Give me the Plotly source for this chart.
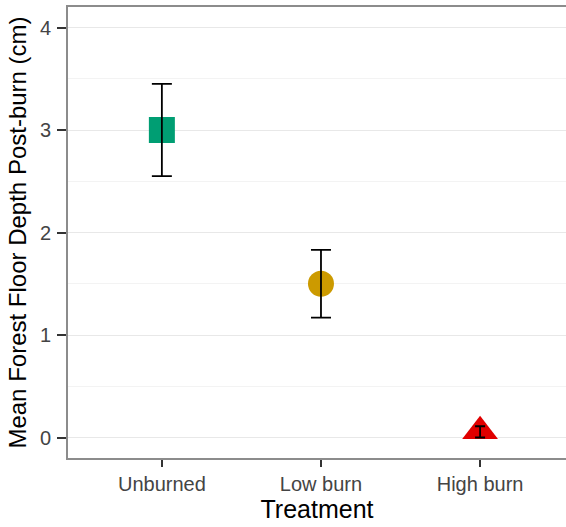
import plotly.graph_objects as go

treatments = ["Unburned", "Low burn", "High burn"]
means = [3.0, 1.5, 0.06]
err_hi = [0.45, 0.33, 0.05]
err_lo = [0.45, 0.33, 0.06]
colors = ["#009E73", "#CC9A00", "#E00000"]
symbols = ["square", "circle", "triangle-up"]
sizes = [26, 26, 31]
cap_widths = [10, 10, 5]

fig = go.Figure()
for i, t in enumerate(treatments):
    fig.add_trace(go.Scatter(
        x=[i], y=[means[i]], mode="markers",
        marker=dict(symbol=symbols[i], size=sizes[i], color=colors[i], line=dict(width=0)),
        showlegend=False, hoverinfo="skip"))
for i, t in enumerate(treatments):
    fig.add_trace(go.Scatter(
        x=[i], y=[means[i]], mode="markers",
        marker=dict(size=1, color="rgba(0,0,0,0)"),
        error_y=dict(type="data", symmetric=False, array=[err_hi[i]], arrayminus=[err_lo[i]],
                     color="black", thickness=1.8, width=cap_widths[i]),
        showlegend=False, hoverinfo="skip"))

fig.update_layout(
    width=566, height=527,
    margin=dict(l=68, r=0, t=7, b=69),
    plot_bgcolor="white", paper_bgcolor="white",
    font=dict(family="Liberation Sans, Arial, sans-serif", color="#4D4D4D"),
)
fig.update_xaxes(
    range=[-0.59, 2.54],
    tickmode="array", tickvals=[0, 1, 2], ticktext=treatments,
    tickfont=dict(size=20, color="#444444"),
    ticks="outside", ticklen=7, tickwidth=2, tickcolor="#333333",
    ticklabelstandoff=0,
    showgrid=False, zeroline=False, automargin=False,
    showline=True, linecolor="#8C8C8C", linewidth=2, mirror=True,
    title=dict(text="Treatment", font=dict(size=25, color="black"), standoff=3),
)
fig.update_yaxes(
    range=[-0.2, 4.2],
    tickmode="array", tickvals=[0, 1, 2, 3, 4], ticktext=["0", "1", "2", "3", "4"],
    tickfont=dict(size=20, color="#444444"),
    ticks="outside", ticklen=9, tickwidth=2, tickcolor="#333333",
    ticklabelstandoff=2,
    showgrid=True, gridcolor="#E8E8E8", gridwidth=1.2,
    minor=dict(tickvals=[0.5, 1.5, 2.5, 3.5], showgrid=True, gridcolor="#F3F3F3", gridwidth=1),
    zeroline=False, automargin=False,
    showline=True, linecolor="#8C8C8C", linewidth=2,
    title=dict(text="Mean Forest Floor Depth Post-burn (cm)", font=dict(size=24, color="black"), standoff=6),
)

fig.write_html("out.html")
